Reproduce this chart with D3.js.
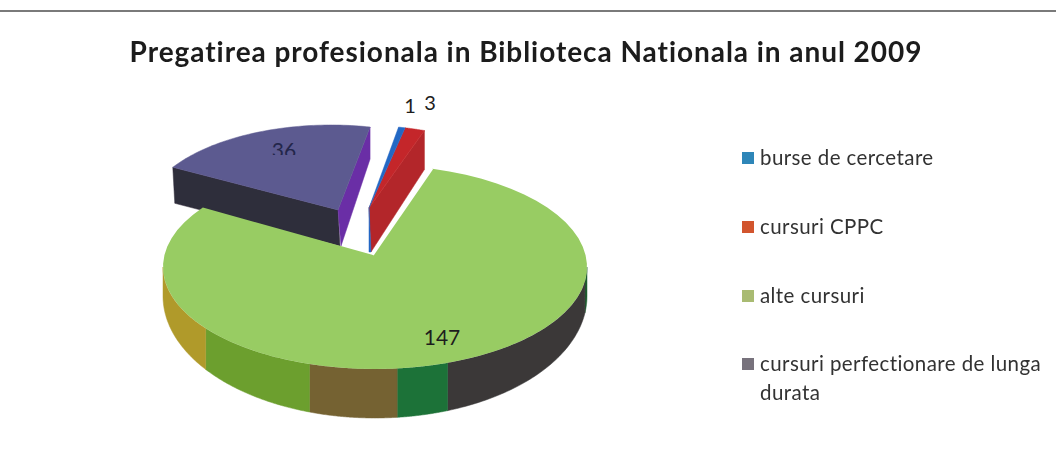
<!DOCTYPE html>
<html>
<head>
<meta charset="utf-8">
<script src="https://cdn.jsdelivr.net/npm/d3@7"></script>
<style>
html,body{margin:0;padding:0;background:#fff}
svg{display:block}
text{font-family:Lato,"Open Sans",sans-serif;font-variant-ligatures:none}
</style>
</head>
<body>
<svg id="c" width="1056" height="474"></svg>
<script>
const titleText = "Pregatirea profesionala in Biblioteca Nationala in anul 2009";
const categories = ["burse de cercetare", "cursuri CPPC", "alte cursuri", "cursuri perfectionare de lunga durata"];
const values = [1, 3, 147, 36];
const topColors = ["#2467c4", "#c4262b", "#98cc63", "#5c5a90"];
const innerWallColors = ["#2467c4", "#b3282b", "#98cc63", "#6a2ea6"];
const legendColors = ["#2f86b8", "#d2552f", "#a9bb72", "#77727c"];
const rimColors = ["#1d5c2e", "#3a3839", "#1f7238", "#746232", "#6c9f2e", "#b09a2c"];
const rimStops = [90, 98, 160, 174, 198, 233, 270];

const svg = d3.select("#c");
const rad = d => d * Math.PI / 180;

// Layout constants
const main = {cx: 375, cy: 267, rx: 212, ry: 102, ax: 373, ay: 255, bleedStart: 4, bleedEnd: 3};
const rimLow = {cx: 375, cy: 296, rx: 212, ry: 122};
const exploded = {cx: 357, cy: 220, rx: 200, ry: 95, ax: 369, ay: 208, depth: 44};
const purple = {cx: 331, cy: 217, rx: 188, ry: 92, ax: 338, ay: 210, depth: 36};

// Angles from the data
const pie = d3.pie().value(d => d).sort(null).startAngle(rad(12)).endAngle(rad(372));
const arcs = pie(values);

const pt = (g, a) => [g.cx + g.rx * Math.sin(a), g.cy - g.ry * Math.cos(a)];
const samples = (g, a0, a1) => d3.range(0, 61).map(i => pt(g, a0 + (a1 - a0) * i / 60));
const line = d3.line().curve(d3.curveLinear);
const fillPoly = (pts, fill) => svg.append("path").attr("d", line(pts) + "Z").attr("fill", fill).attr("stroke", fill).attr("stroke-width", .5).attr("filter", "url(#soft)");

const defs = svg.append("defs");
defs.append("filter").attr("id", "soft").attr("x", "-5%").attr("y", "-5%").attr("width", "110%").attr("height", "110%")
  .append("feGaussianBlur").attr("stdDeviation", 0.5);
defs.append("filter").attr("id", "softText").append("feGaussianBlur").attr("stdDeviation", 0.45);
defs.append("clipPath").attr("id", "cut").append("rect").attr("x", 260).attr("y", 130).attr("width", 50).attr("height", 25);

// Top rule
svg.append("rect").attr("x", 0).attr("y", 10).attr("width", 1056).attr("height", 2).attr("fill", "#7a7a7a");

// Purple slice (index 3)
{
  const d = arcs[3], g = purple;
  const a0 = d.startAngle, a1 = d.endAngle;
  const pL = pt(g, a0), pR = pt(g, a1);
  fillPoly([pL, [g.ax, g.ay], [g.ax + 2, g.ay + g.depth], [pL[0] + 2, pL[1] + g.depth]], "#2f2d3a");
  fillPoly([[g.ax, g.ay], pR, [pR[0], pR[1] + g.depth - 4], [g.ax + 3, g.ay + g.depth]], innerWallColors[3]);
  fillPoly([[g.ax, g.ay], ...samples(g, a0, a1)], topColors[3]);
}

// "36" label, half hidden in the reference
svg.append("text").attr("x", 284).attr("y", 158).attr("text-anchor", "middle").attr("font-size", 21)
  .attr("fill", "#23264a").attr("clip-path", "url(#cut)").text(values[3]);

// Red and blue slices (indices 1, 0)
{
  const g = exploded;
  const r = arcs[1], b = arcs[0];
  const rEnd = pt(g, r.endAngle);
  fillPoly([[g.ax + 2, g.ay + g.depth], [g.ax, g.ay], rEnd, [rEnd[0], rEnd[1] + 39]], innerWallColors[1]);
  fillPoly([[g.ax, g.ay], ...samples(g, r.startAngle, r.endAngle)], topColors[1]);
  fillPoly([[g.ax, g.ay], ...samples(g, b.startAngle, b.endAngle)], topColors[0]);
  fillPoly([[g.ax, g.ay], [g.ax, g.ay + g.depth], [g.ax + 2, g.ay + g.depth]], topColors[0]);
}

// Green rim segments
rimColors.forEach((c, i) => {
  const a0 = rad(rimStops[i]), a1 = rad(rimStops[i + 1]);
  fillPoly([...samples(main, a0, a1), ...samples(rimLow, a1, a0)], c);
});

// Green top
{
  const d = arcs[2];
  const a0 = d.startAngle - rad(main.bleedStart), a1 = d.endAngle + rad(main.bleedEnd);
  const pts = [[main.ax, main.ay], ...samples(main, a0, a1)];
  svg.append("path").attr("d", line(pts) + "Z").attr("fill", topColors[2]).attr("filter", "url(#soft)");
  svg.append("path").attr("d", line([[main.ax, main.ay], pt(main, a0)])).attr("fill", "none").attr("stroke", "#fff").attr("stroke-width", 1.6);
}

// Data labels
const labelPos = [[410, 113], [430, 110], [442, 345]];
const labelSize = [20, 20, 21];
[0, 1, 2].forEach((i) => {
  svg.append("text").attr("x", labelPos[i][0]).attr("y", labelPos[i][1]).attr("text-anchor", "middle")
    .attr("font-size", labelSize[i]).attr("fill", "#1d1d1d").text(values[i]);
});

// Title
svg.append("text").attr("x", 526).attr("y", 62).attr("text-anchor", "middle").attr("font-size", 28)
  .attr("letter-spacing", 0.95).attr("font-weight", 700).attr("fill", "#1a1a1a").attr("filter", "url(#softText)").text(titleText);

// Legend
const legendY = [158, 227, 296, 364];
categories.forEach((c, i) => {
  svg.append("rect").attr("x", 742).attr("y", legendY[i] - 6).attr("width", 12).attr("height", 12).attr("fill", legendColors[i]).attr("filter", "url(#soft)");
  const t = svg.append("text").attr("x", 760).attr("y", legendY[i] + 7).attr("font-size", 20.5).attr("fill", "#333").attr("filter", "url(#softText)").attr("letter-spacing", .42);
  if (i === 3) {
    t.append("tspan").text("cursuri perfectionare de lunga");
    t.append("tspan").attr("x", 760).attr("dy", 29).text("durata");
  } else {
    t.text(c);
  }
});
</script>
</body>
</html>
